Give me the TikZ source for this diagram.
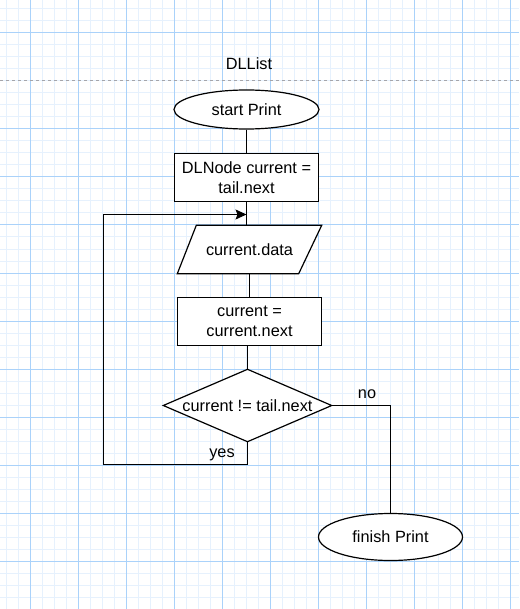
\documentclass[tikz,border=0pt]{standalone}
\usepackage{fontspec}
\setmainfont{Liberation Sans}
\usetikzlibrary{shapes.geometric,arrows.meta}
\definecolor{gridminor}{RGB}{230,241,253}
\definecolor{gridmajor}{RGB}{170,210,250}
\definecolor{pagebreak}{RGB}{165,165,170}
\tikzset{
  shapeline/.style={draw=black, line width=1.2pt, fill=white},
  conn/.style={draw=black, line width=1.2pt},
  txt/.style={font=\fontsize{16.3}{19.5}\selectfont, align=center, text=black},
  startend/.style={ellipse, shapeline, txt, inner sep=0pt},
  procbox/.style={rectangle, shapeline, txt, inner sep=0pt, minimum width=144pt, minimum height=48pt},
  ghost/.style={rectangle, txt, inner sep=0pt},
  lbl/.style={txt, inner sep=0pt}
}
\begin{document}
\begin{tikzpicture}[x=1pt,y=-1pt]
\useasboundingbox (0,0) rectangle (519,609);
\fill[white] (0,0) rectangle (519,609);
% grid
\foreach \x in {6,18,...,519} \draw[gridminor, line width=1pt] (\x,0) -- (\x,609);
\foreach \y in {9,21,...,609} \draw[gridminor, line width=1pt] (0,\y) -- (519,\y);
\foreach \x in {30,78,...,519} \draw[gridmajor, line width=1pt] (\x,0) -- (\x,609);
\draw[gridmajor, line width=1pt] (0,33) -- (519,33);
\foreach \y in {129,177,...,609} \draw[gridmajor, line width=1pt] (0,\y) -- (519,\y);
\draw[pagebreak, line width=1pt, dash pattern=on 3pt off 3pt] (0,81) -- (519,81);

% title
\node[lbl] (title) at (249,64) {DLList};

% nodes
\node[startend, minimum width=145pt, minimum height=39pt] (start) at (246.5,109.5) {start Print};
\node[procbox] (init) at (246.5,177.5) {DLNode current =\\tail.next};
\node[ghost, minimum width=144pt, minimum height=48pt] (out) at (249.5,249.5) {};
\draw[shapeline] ([xshift=19pt]out.north west) -- (out.north east) -- ([xshift=-23pt]out.south east) -- (out.south west) -- cycle;
\node[lbl] (outlbl) at (out.center) {current.data};
\node[procbox] (adv) at (249.5,321.5) {current =\\current.next};
\node[ghost, minimum width=168pt, minimum height=72pt] (cond) at (247.5,405.5) {};
\draw[shapeline] (cond.north) -- (cond.east) -- (cond.south) -- (cond.west) -- cycle;
\node[lbl] (condlbl) at (cond.center) {current != tail.next};
\node[startend, minimum width=144pt, minimum height=47pt] (finish) at (390.5,537) {finish Print};

% loop coordinates
\coordinate (yesA) at (247.5,464.5);
\coordinate (yesB) at (103.5,464.5);
\coordinate (yesC) at (103.5,214.5);
\coordinate (noA) at (390.5,405.5);

% connectors
\draw[conn] (start.south) -- (init.north);
\draw[conn] (init.south) -- (init.south |- out.north);
\draw[conn] (out.south) -- (adv.north);
\draw[conn] (cond.north |- adv.south) -- (cond.north);
\draw[conn, -{Stealth[length=11pt,width=10pt,inset=2pt]}] (cond.south) -- (yesA) -- (yesB) -- (yesC) -- (init.south |- yesC);
\draw[conn] (cond.east) -- (noA) -- (finish.north);

% labels
\node[lbl] (yes) at (222,455) {yes};
\node[lbl] (no) at (367,394) {no};
\end{tikzpicture}
\end{document}
